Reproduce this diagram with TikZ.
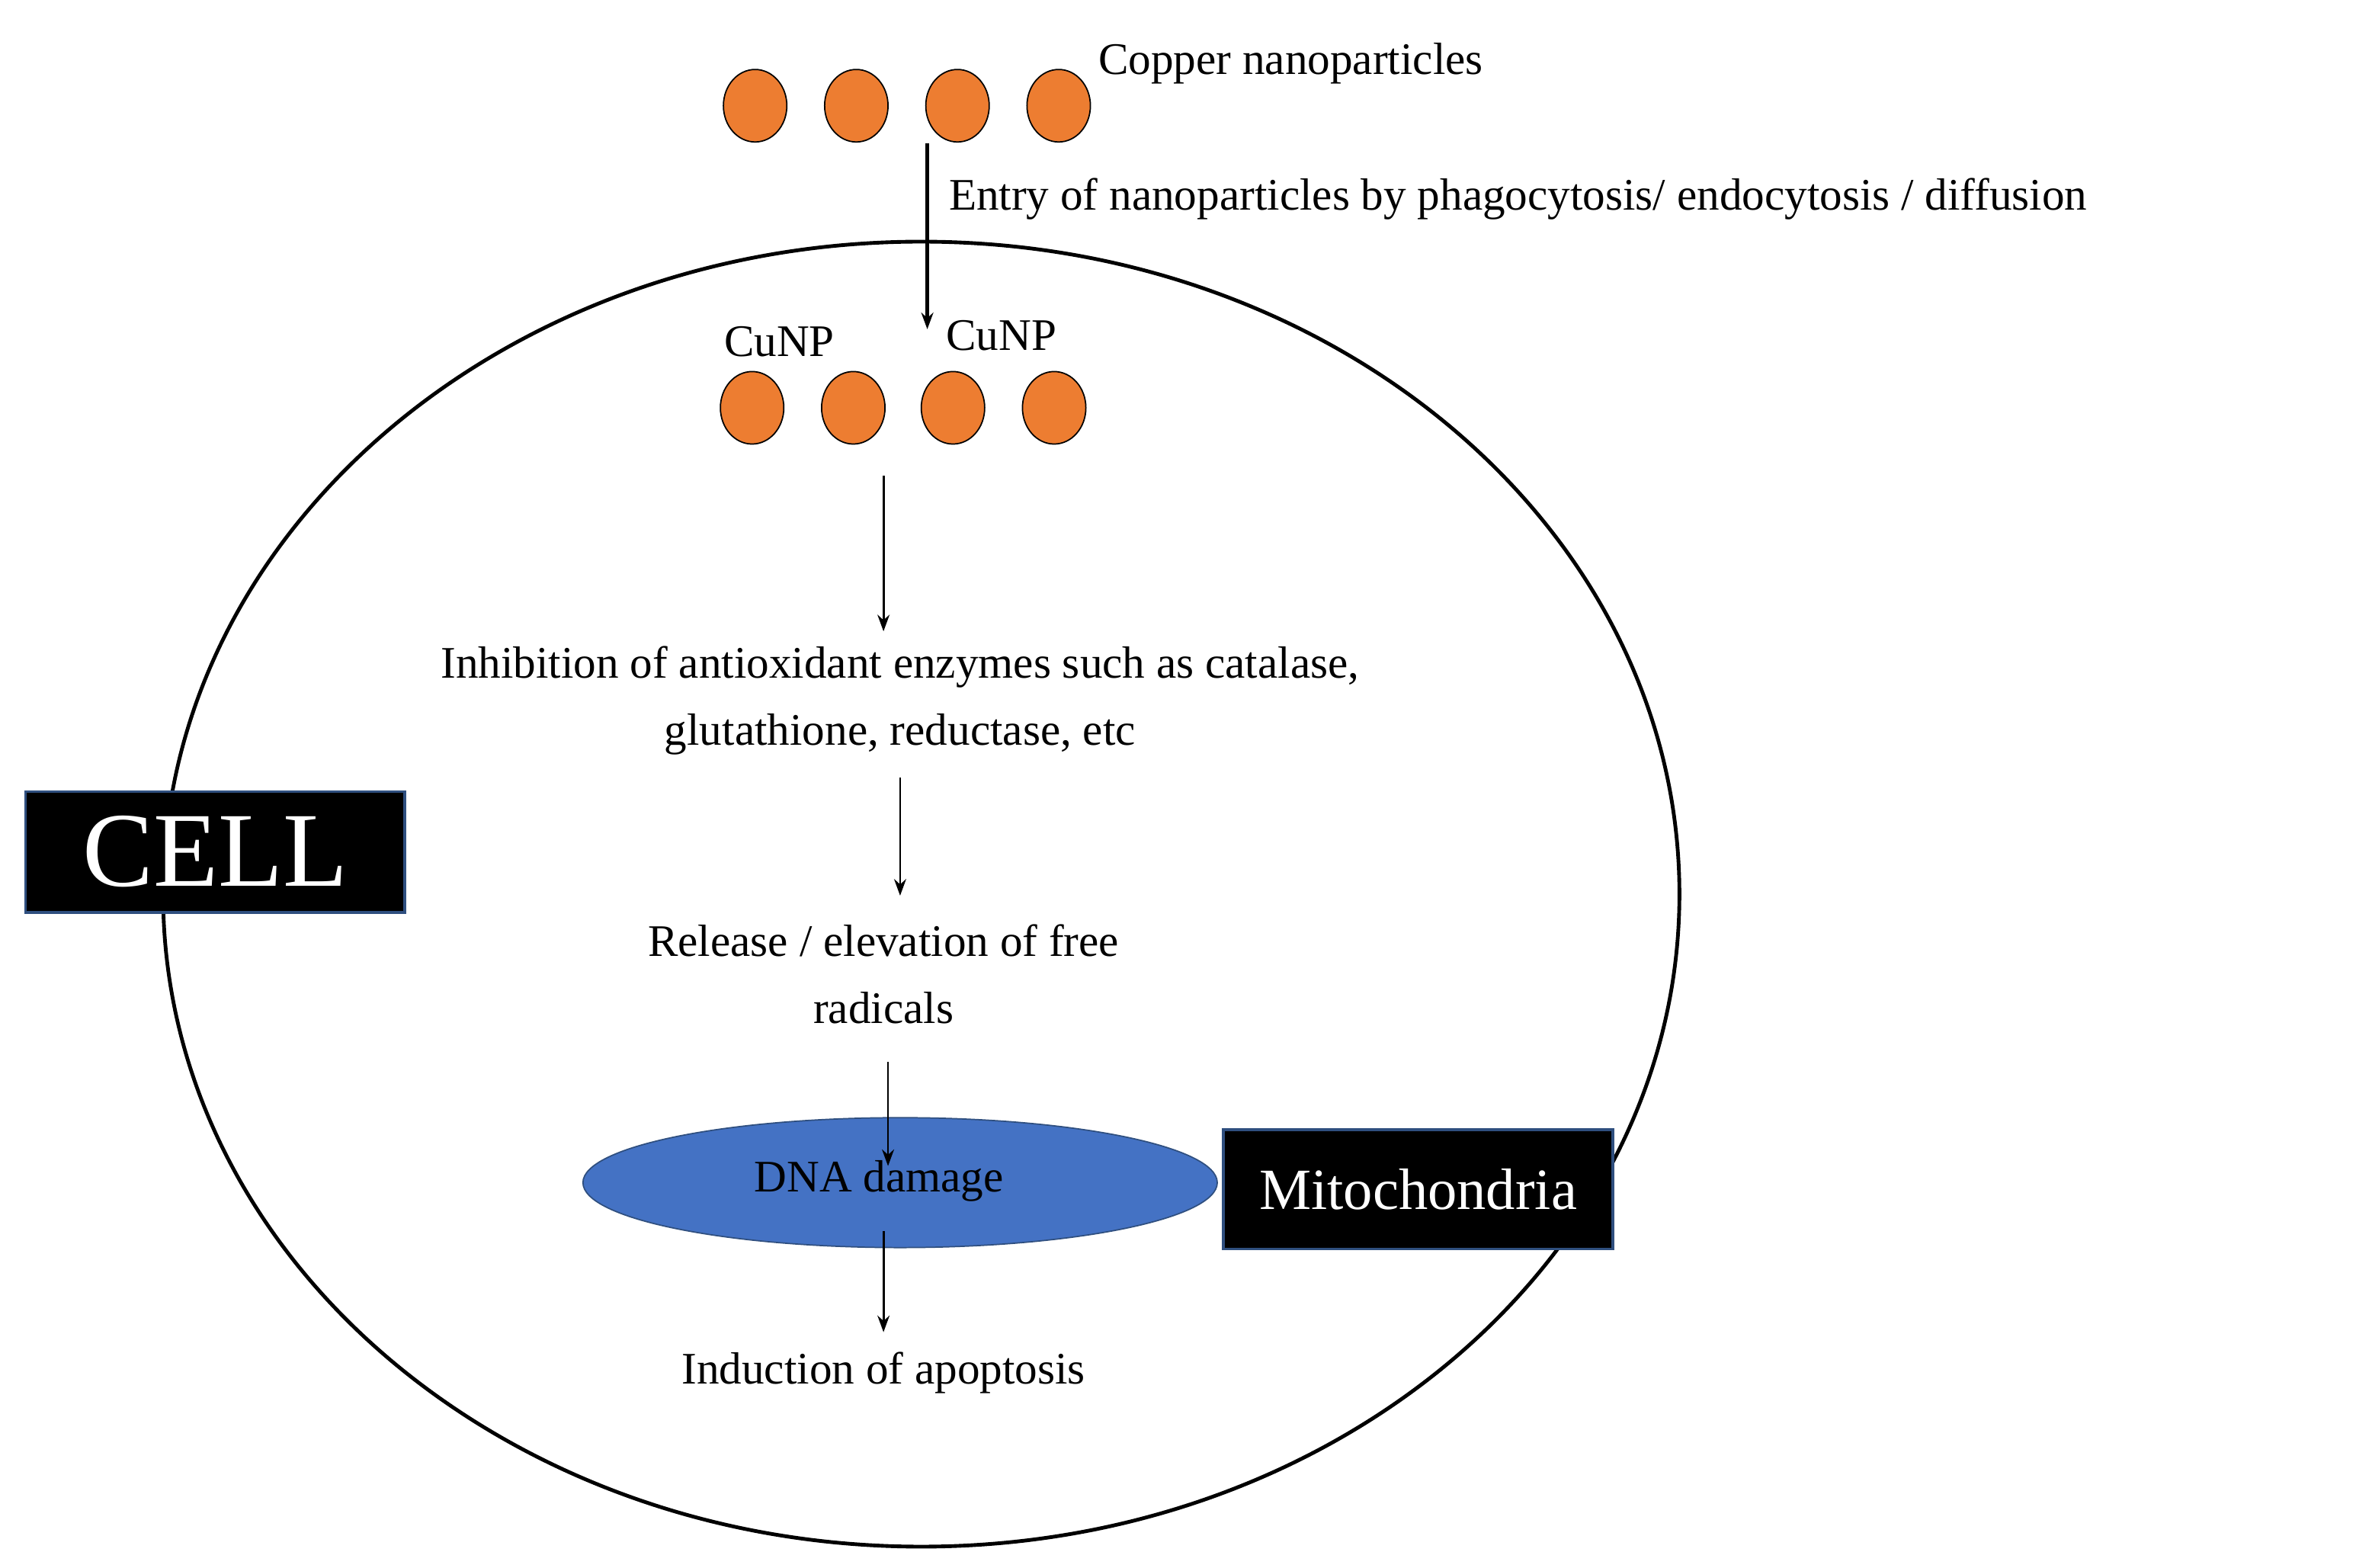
\documentclass[tikz,border=0pt]{standalone}
\usepackage{fontspec}
\setmainfont{Liberation Serif}
\usetikzlibrary{arrows.meta,shapes.geometric}
\definecolor{cu}{HTML}{ED7D31}
\definecolor{dna}{HTML}{4472C4}
\definecolor{bd}{HTML}{2F4F7F}
\begin{document}
\begin{tikzpicture}[x=0.2mm,y=-0.2mm,
  np/.style={ellipse,draw=black,fill=cu,minimum width=8.4mm,minimum height=9.6mm,inner sep=0pt,line width=0.5pt},
  txt/.style={font=\fontsize{17}{21}\selectfont,inner sep=0pt},
  arr/.style={-{Stealth[length=2.2mm,width=1.6mm]},line width=0.8pt},
  lab/.style={fill=black,text=white,draw=bd,line width=1pt,inner sep=0pt}]
\useasboundingbox (0,0) rectangle (1560,1038);
\node[ellipse,draw,line width=1.4pt,minimum width=200.8mm,minimum height=172.8mm,inner sep=0pt] (cell) at (610,592) {};
\foreach \x [count=\i] in {500,567,634,701} \node[np] (t\i) at (\x,70) {};
\foreach \x [count=\i] in {498,565,631,698} \node[np] (b\i) at (\x,270) {};
\node[txt,anchor=west] (cu) at (727,42) {Copper nanoparticles};
\coordinate (a1s) at (614,95); \coordinate (a1e) at (614,218);
\draw[arr,line width=1.4pt] (a1s) -- (a1e);
\node[txt,anchor=west] (entry) at (628,132) {Entry of nanoparticles by phagocytosis/ endocytosis / diffusion};
\node[txt] (c1) at (516,226) {CuNP};
\node[txt] (c2) at (663,222) {CuNP};
\node[txt,align=center] (inh) at (596,464) {Inhibition of antioxidant enzymes such as catalase,\\[1.5mm]glutathione, reductase, etc};
\node[txt,align=center] (rel) at (585,645) {Release / elevation of free\\[1.5mm]radicals};
\node[ellipse,fill=dna,draw=bd,line width=0.5pt,minimum width=84mm,minimum height=17.2mm,inner sep=0pt] (dna) at (596,783) {};
\node[txt] (dnat) at (582,782) {DNA damage};
\node[txt] (apo) at (585,909) {Induction of apoptosis};
\coordinate (a2s) at (585,315); \coordinate (a2e) at (585,418);
\coordinate (a3s) at (596,515); \coordinate (a3e) at (596,593);
\coordinate (a4s) at (588,703); \coordinate (a4e) at (588,772);
\coordinate (a5s) at (585,815); \coordinate (a5e) at (585,882);
\draw[arr] (a2s) -- (a2e);
\draw[arr] (a3s) -- (a3e);
\draw[arr] (a4s) -- (a4e);
\draw[arr] (a5s) -- (a5e);
\node[lab,minimum width=50.2mm,minimum height=16mm,font=\fontsize{40}{44}\selectfont] (cellb) at (142.5,564) {CELL};
\node[lab,minimum width=51.6mm,minimum height=15.8mm,font=\fontsize{22}{26}\selectfont] (mito) at (939,787.5) {Mitochondria};
\end{tikzpicture}
\end{document}
